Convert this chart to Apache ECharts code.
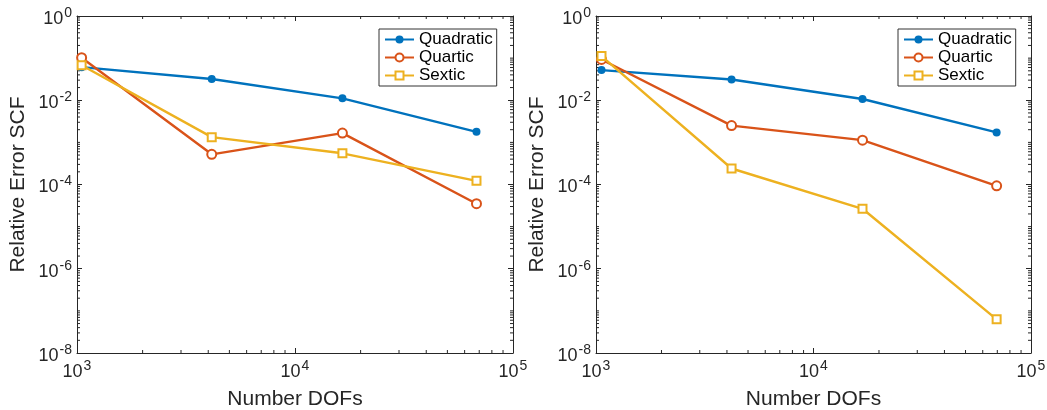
<!DOCTYPE html>
<html>
<head>
<meta charset="utf-8">
<script src="https://cdn.jsdelivr.net/npm/echarts@6/dist/echarts.min.js"></script>
<style>
html,body{margin:0;padding:0;background:#fff;}
#c{width:1047px;height:410px;}
</style>
</head>
<body>
<div id="c"></div>
<script>
// ---- data ----
const seriesNames = ['Quadratic', 'Quartic', 'Sextic'];
const dofsLeft  = [1050, 4150, 16500, 68000];
const dofsRight = [1060, 4200, 16800, 69500];
const quadLeft   = [0.061, 0.032, 0.0111, 0.00178];
const quartLeft  = [0.102, 5.2e-4, 1.66e-3, 3.5e-5];
const sextLeft   = [0.068, 1.33e-3, 5.5e-4, 1.22e-4];
const quadRight  = [0.052, 0.031, 0.0107, 0.00172];
const quartRight = [0.093, 2.5e-3, 1.13e-3, 9.3e-5];
const sextRight  = [0.112, 2.4e-4, 2.65e-5, 6.3e-8];
const xAxisTitle = 'Number DOFs';
const yAxisTitle = 'Relative Error SCF';

const colors = ['#0072BD', '#D95319', '#EDB120'];
const axisColor = '#262626';
const font = 'Liberation Sans, Arial, Helvetica, sans-serif';

// minor tick values (axis decoration)
const xMinor = [];
for (let k = 3; k <= 4; k++) for (let m = 2; m <= 9; m++) xMinor.push(m * Math.pow(10, k));
const yMinor = [];
for (let k = -8; k <= -1; k++) for (let m = 1; m <= 9; m++) {
  if (m === 1 && k % 2 === 0) continue;
  yMinor.push(m * Math.pow(10, k));
}

const chart = echarts.init(document.getElementById('c'), null, {renderer: 'canvas'});

function powLabel(v) {
  const e = Math.round(Math.log10(v));
  return '{b|10}{s|' + e + '}';
}
const richLabel = {
  b: {fontSize: 18, fontFamily: font, color: axisColor, lineHeight: 26},
  s: {fontSize: 14, fontFamily: font, color: axisColor, lineHeight: 14, verticalAlign: 'top', padding: [0, 0, 0, 1]}
};

const grids = [
  {left: 77, top: 16, width: 436, height: 337, outerBoundsMode: 'none', containLabel: false},
  {left: 596, top: 16, width: 435, height: 337, outerBoundsMode: 'none', containLabel: false}
];

const xAxes = [], yAxes = [], series = [];
grids.forEach((g, gi) => {
  const common = {
    type: 'log', gridIndex: gi,
    axisLine: {show: true, onZero: false, lineStyle: {color: axisColor, width: 1}},
    axisTick: {show: true, inside: true, length: 5, lineStyle: {color: axisColor, width: 1}},
    splitLine: {show: false}
  };
  xAxes.push(Object.assign({}, common, {
    position: 'bottom', min: 1000, max: 100000, interval: 1, logBase: 10,
    axisLabel: {show: true, formatter: powLabel, rich: richLabel, margin: 6, showMinLabel: true, showMaxLabel: true},
    name: xAxisTitle, nameLocation: 'middle', nameGap: 36,
    nameTextStyle: {fontSize: 21, fontFamily: font, color: axisColor}
  }));
  xAxes.push(Object.assign({}, common, {
    position: 'top', min: 1000, max: 100000, interval: 1, logBase: 10,
    axisLabel: {show: false}
  }));
  yAxes.push(Object.assign({}, common, {
    position: 'left', min: 1e-8, max: 1, interval: 2, logBase: 10,
    axisLabel: {show: true, formatter: powLabel, rich: richLabel, margin: 5, padding: [6, 0, 0, 0], showMinLabel: true, showMaxLabel: true},
    name: yAxisTitle, nameLocation: 'middle', nameGap: 48,
    nameTextStyle: {fontSize: 21, fontFamily: font, color: axisColor}
  }));
  yAxes.push(Object.assign({}, common, {
    position: 'right', min: 1e-8, max: 1, interval: 2, logBase: 10,
    axisLabel: {show: false}
  }));
});

function minorX(gi) {
  return {
    type: 'custom', xAxisIndex: gi * 2, yAxisIndex: gi * 2, silent: true, z: 1,
    data: xMinor.map(v => [v, 1e-8]),
    renderItem: function (params, api) {
      const v = api.value(0);
      const b = api.coord([v, 1e-8]);
      const t = api.coord([v, 1]);
      const st = {stroke: axisColor, lineWidth: 1};
      return {type: 'group', children: [
        {type: 'line', shape: {x1: b[0], y1: b[1], x2: b[0], y2: b[1] - 3}, style: st},
        {type: 'line', shape: {x1: t[0], y1: t[1], x2: t[0], y2: t[1] + 3}, style: st}
      ]};
    }
  };
}
function minorY(gi) {
  return {
    type: 'custom', xAxisIndex: gi * 2, yAxisIndex: gi * 2, silent: true, z: 1,
    data: yMinor.map(v => [1000, v]),
    renderItem: function (params, api) {
      const v = api.value(1);
      const l = api.coord([1000, v]);
      const r = api.coord([100000, v]);
      const st = {stroke: axisColor, lineWidth: 1};
      return {type: 'group', children: [
        {type: 'line', shape: {x1: l[0], y1: l[1], x2: l[0] + 3, y2: l[1]}, style: st},
        {type: 'line', shape: {x1: r[0], y1: r[1], x2: r[0] - 3, y2: r[1]}, style: st}
      ]};
    }
  };
}

function lineSeries(name, xs, ys, gi, idx) {
  const sym = ['circle', 'emptyCircle', 'emptyRect'][idx];
  const size = [8, 9, 8][idx];
  return {
    type: 'line', name: name, xAxisIndex: gi * 2, yAxisIndex: gi * 2,
    data: xs.map((x, i) => [x, ys[i]]),
    symbol: sym, symbolSize: size, showSymbol: true,
    lineStyle: {color: colors[idx], width: 2.4},
    itemStyle: {color: colors[idx], borderColor: colors[idx], borderWidth: idx === 0 ? 0 : 2.2},
    emphasis: {disabled: true},
    animation: false, z: 3 + idx
  };
}

[0, 1].forEach(gi => { series.push(minorX(gi)); series.push(minorY(gi)); });
series.push(lineSeries(seriesNames[0], dofsLeft, quadLeft, 0, 0));
series.push(lineSeries(seriesNames[1], dofsLeft, quartLeft, 0, 1));
series.push(lineSeries(seriesNames[2], dofsLeft, sextLeft, 0, 2));
series.push(lineSeries(seriesNames[0], dofsRight, quadRight, 1, 0));
series.push(lineSeries(seriesNames[1], dofsRight, quartRight, 1, 1));
series.push(lineSeries(seriesNames[2], dofsRight, sextRight, 1, 2));

function legendAt(left) {
  return {
    show: true, orient: 'vertical', left: left, top: 29,
    data: seriesNames,
    itemWidth: 29, itemHeight: 10, itemGap: 1,
    padding: [2, 4, 2, 5],
    backgroundColor: '#fff', borderColor: '#333', borderWidth: 1,
    selectedMode: false,
    textStyle: {fontSize: 17, fontFamily: font, color: '#000', lineHeight: 17}
  };
}

chart.setOption({
  animation: false,
  backgroundColor: '#fff',
  grid: grids,
  xAxis: xAxes,
  yAxis: yAxes,
  legend: [legendAt(379), legendAt(898)],
  series: series
});
</script>
</body>
</html>
